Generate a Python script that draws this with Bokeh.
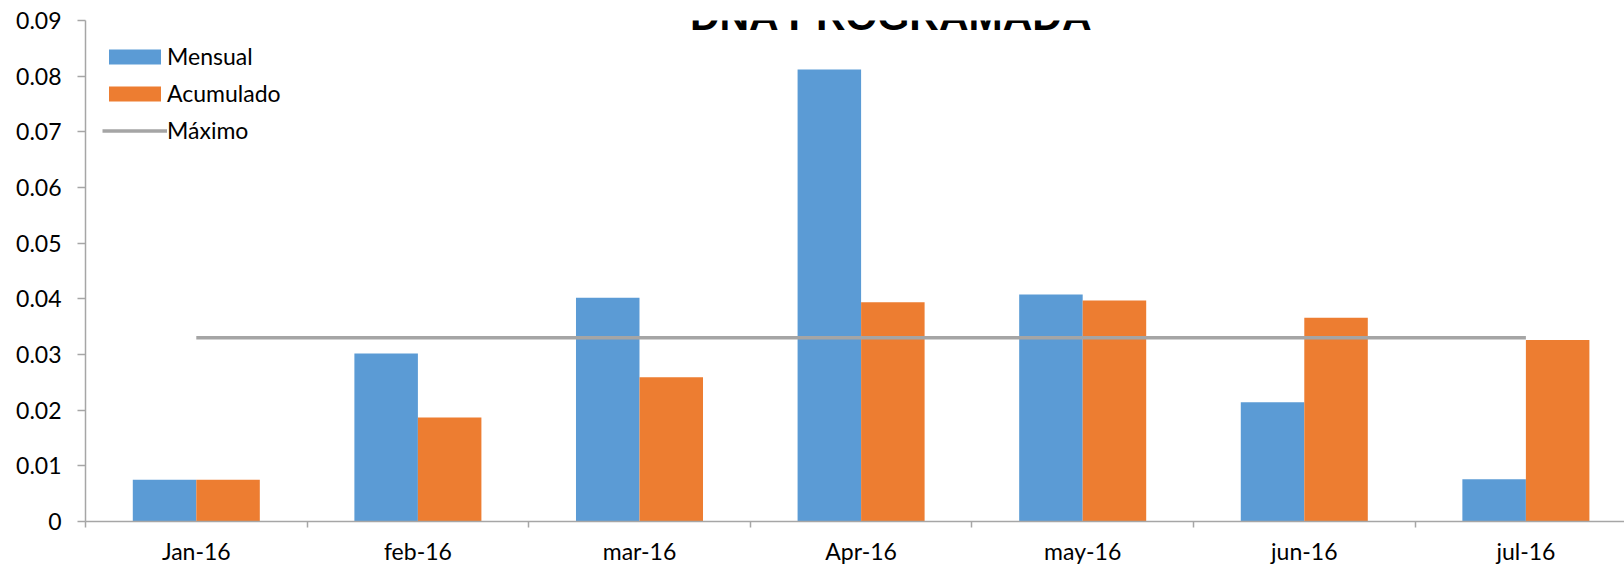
from bokeh.plotting import figure
from bokeh.models import (ColumnDataSource, Range1d, FixedTicker, Label,
                          Legend, LegendItem)
from bokeh.transform import dodge
from bokeh.embed import file_html
from bokeh.resources import INLINE

# ---- data ----
categories = ["Jan-16", "feb-16", "mar-16", "Apr-16", "may-16", "jun-16", "jul-16"]
mensual = [0.0075, 0.0302, 0.0402, 0.0812, 0.0408, 0.0214, 0.0076]
acumulado = [0.0075, 0.0187, 0.0259, 0.0394, 0.0397, 0.0366, 0.0326]
maximo = [0.033, 0.033, 0.033, 0.033, 0.033, 0.033, 0.033]
y_ticks = [0.0, 0.01, 0.02, 0.03, 0.04, 0.05, 0.06, 0.07, 0.08, 0.09]
y_tick_labels = ["0", "0.01", "0.02", "0.03", "0.04", "0.05", "0.06", "0.07", "0.08", "0.09"]
title_text = "DNA PROGRAMADA"

BLUE = "#5B9BD5"
ORANGE = "#ED7D31"
GRAY = "#A5A5A5"
AXIS = "#A6A6A6"
FONT = "Lato"

centers = [i + 0.5 for i in range(len(categories))]
src = ColumnDataSource(dict(x=centers, cat=categories, mensual=mensual,
                            acumulado=acumulado, maximo=maximo))

W, H = 1624, 567
p = figure(width=W, height=H, output_backend="svg", toolbar_location=None,
           x_range=Range1d(0, 6.945), y_range=Range1d(0, 0.09),
           min_border_left=85, min_border_right=0, min_border_top=20,
           min_border_bottom=46)
p.outline_line_color = None
p.xgrid.visible = False
p.ygrid.visible = False

bw = 0.2866
r1 = p.vbar(x=dodge("x", -bw / 2), top="mensual", width=bw, source=src,
            fill_color=BLUE, line_color=None)
r2 = p.vbar(x=dodge("x", bw / 2), top="acumulado", width=bw, source=src,
            fill_color=ORANGE, line_color=None)
r3 = p.line(x="x", y="maximo", source=src, line_color=GRAY, line_width=3.5)

# x axis: labels at category centres, tick marks at category boundaries
xa = p.xaxis[0]
xa.ticker = FixedTicker(ticks=centers, minor_ticks=list(range(len(categories) + 1)))
xa.major_label_overrides = {c: s for c, s in zip(centers, categories)}
xa.axis_line_color = AXIS
xa.axis_line_width = 1.5
xa.minor_tick_line_color = AXIS
xa.minor_tick_line_width = 1.5
xa.minor_tick_out = 6
xa.minor_tick_in = 0
xa.major_tick_out = 0
xa.major_tick_in = 0
xa.major_tick_line_color = None
xa.major_label_standoff = 9
xa.major_label_text_font = FONT
xa.major_label_text_font_size = "23px"
xa.major_label_text_color = "#000000"

ya = p.yaxis[0]
ya.ticker = FixedTicker(ticks=y_ticks, minor_ticks=[])
ya.major_label_overrides = {t: s for t, s in zip(y_ticks, y_tick_labels)}
ya.axis_line_color = AXIS
ya.axis_line_width = 1.5
ya.major_tick_line_color = AXIS
ya.major_tick_line_width = 1.5
ya.major_tick_out = 8
ya.major_tick_in = 0
ya.minor_tick_out = 0
ya.major_label_standoff = 16
ya.major_label_text_font = FONT
ya.major_label_text_font_size = "23px"
ya.major_label_text_color = "#000000"

title = Label(x=3.637, y=0.09, y_offset=5, text=title_text,
              text_align="center", text_baseline="alphabetic",
              text_font="Liberation Sans", text_font_style="bold",
              text_font_size="41px", text_color="#000000")
p.add_layout(title)

legend = Legend(items=[LegendItem(label="Mensual", renderers=[r1]),
                       LegendItem(label="Acumulado", renderers=[r2]),
                       LegendItem(label="Máximo", renderers=[r3])],
                location=(17, 377), orientation="vertical")
legend.glyph_width = 65
legend.glyph_height = 19
legend.label_standoff = 0
legend.label_text_font = FONT
legend.label_text_font_size = "23px"
legend.label_text_color = "#000000"
legend.spacing = 9
legend.padding = 0
legend.margin = 0
legend.border_line_color = None
legend.background_fill_alpha = 0
p.add_layout(legend)

open("out.html", "w").write(file_html(p, INLINE))
